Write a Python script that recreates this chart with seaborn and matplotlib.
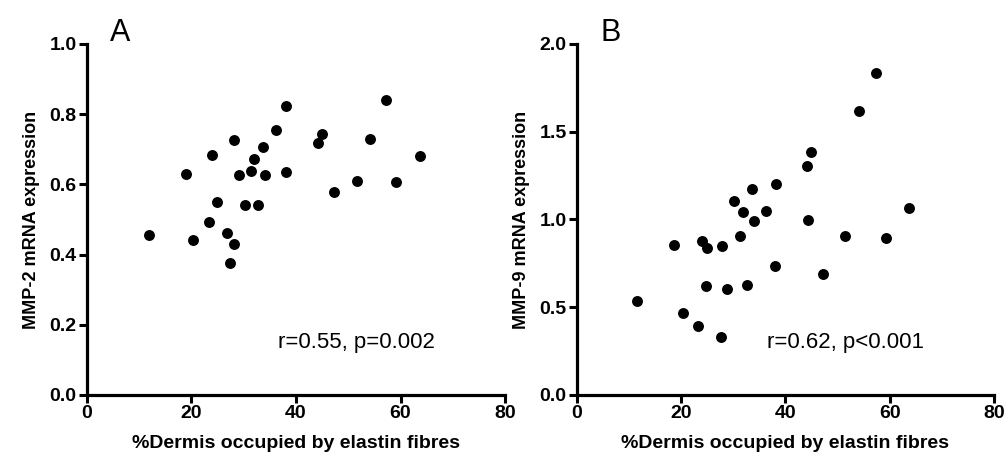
import matplotlib
matplotlib.use("Agg")
import matplotlib.pyplot as plt
import seaborn as sns
import pandas as pd

# =========================================================
# Data
# =========================================================
elastin_a = [11.8, 18.9, 20.3, 24.0, 23.4, 24.9, 28.2, 26.8, 28.1, 27.4,
             29.0, 30.2, 31.3, 31.9, 33.7, 32.8, 34.1, 36.2, 38.1, 38.1,
             44.3, 45.0, 47.2, 51.6, 54.1, 57.3, 59.2, 63.7]
mmp2 = [0.456, 0.629, 0.441, 0.685, 0.494, 0.549, 0.725, 0.461, 0.429, 0.376,
        0.626, 0.540, 0.639, 0.671, 0.706, 0.540, 0.627, 0.755, 0.823, 0.636,
        0.718, 0.744, 0.579, 0.610, 0.729, 0.840, 0.606, 0.682]

elastin_b = [57.4, 54.1, 44.9, 44.2, 38.1, 33.5, 30.1, 31.8, 36.2, 34.0,
             44.3, 63.6, 31.2, 51.4, 59.2, 18.7, 24.0, 24.9, 27.9, 38.0,
             47.2, 24.7, 28.8, 32.7, 11.5, 20.3, 23.3, 27.7]
mmp9 = [1.835, 1.618, 1.384, 1.302, 1.200, 1.175, 1.106, 1.042, 1.046, 0.989,
        0.996, 1.063, 0.903, 0.905, 0.897, 0.854, 0.878, 0.835, 0.848, 0.736,
        0.692, 0.618, 0.603, 0.627, 0.534, 0.466, 0.395, 0.331]

x_label = "%Dermis occupied by elastin fibres"
panels = [
    ("A", elastin_a, mmp2, "MMP-2 mRNA expression", "r=0.55, p=0.002",
     [0.0, 0.2, 0.4, 0.6, 0.8, 1.0], 1.0),
    ("B", elastin_b, mmp9, "MMP-9 mRNA expression", "r=0.62, p<0.001",
     [0.0, 0.5, 1.0, 1.5, 2.0], 2.0),
]

sns.set_style("ticks")
plt.rcParams["font.family"] = ["Liberation Sans", "DejaVu Sans"]
plt.rcParams["text.color"] = "black"
plt.rcParams["axes.labelcolor"] = "black"
plt.rcParams["xtick.color"] = "black"
plt.rcParams["ytick.color"] = "black"
plt.rcParams["axes.edgecolor"] = "black"

fig = plt.figure(figsize=(10.08, 4.63), dpi=100)
axes_pos = [[0.0863, 0.147, 0.4147, 0.758], [0.5724, 0.147, 0.4137, 0.758]]

for pos, (letter, xs, ys, ylab, stat, yticks, ymax) in zip(axes_pos, panels):
    ax = fig.add_axes(pos)
    df = pd.DataFrame({"x": xs, "y": ys})
    sns.scatterplot(data=df, x="x", y="y", ax=ax, color="black",
                    s=62, edgecolor="black", linewidth=0, clip_on=False)

    ax.set_xlim(0, 80)
    ax.set_ylim(0, ymax)
    ax.set_xticks([0, 20, 40, 60, 80])
    ax.set_yticks(yticks)
    ax.set_xticklabels(["0", "20", "40", "60", "80"], fontweight="bold", fontsize=14)
    ax.set_yticklabels([f"{t:.1f}" for t in yticks], fontweight="bold", fontsize=14)

    ax.set_xlabel(x_label, fontweight="bold", fontsize=14, labelpad=9)
    ax.set_ylabel(ylab, fontweight="bold", fontsize=13, labelpad=7)

    sns.despine(ax=ax)
    for side in ["left", "bottom"]:
        ax.spines[side].set_linewidth(2.3)
    ax.tick_params(width=2.2, length=5.5, pad=2)

    ax.text(51.5, 0.148 * ymax, stat, fontsize=16, ha="center", va="center")
    ax.text(0.08, 1.03, letter, transform=ax.transAxes, fontsize=22,
            ha="center", va="center")

plt.savefig("out.png", dpi=100)
